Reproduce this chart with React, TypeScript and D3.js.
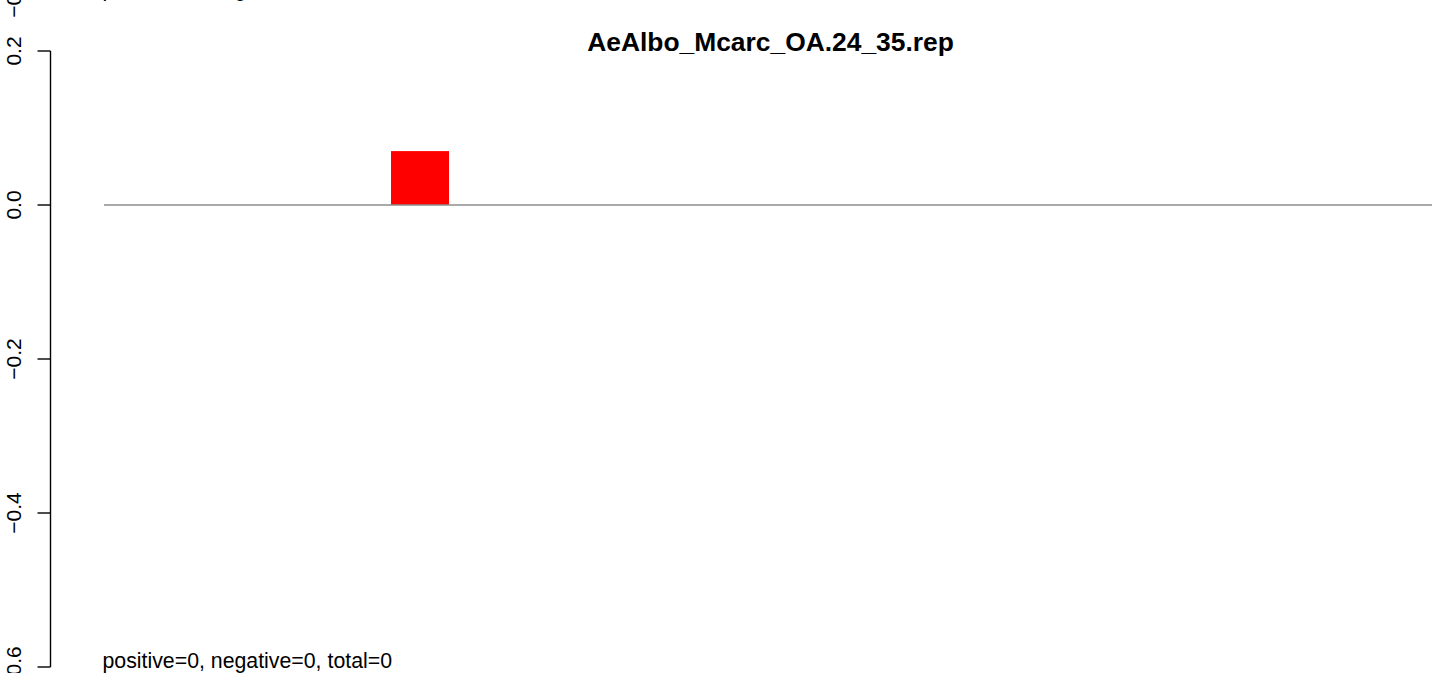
import React from "react";
import * as d3 from "d3";

const title = "AeAlbo_Mcarc_OA.24_35.rep";
const categories = ["1","2","3","4","5","6","7","8","9","10","11","12","13","14","15","16","17","18","19"];
const values = [0, 0, 0, 0, 0.07, 0, 0, 0, 0, 0, 0, 0, 0, 0, 0, 0, 0, 0, 0];
const yTicks = [-0.6, -0.4, -0.2, 0.0, 0.2];
const summary = { positive: 0, negative: 0, total: 0 };

const W = 1439;
const H = 673;
const FONT = "'Liberation Sans', Arial, Helvetica, sans-serif";
const PANEL_OFFSET = 672; // previous (clipped) panel sits above

const fmt = (v: number) => {
  const s = d3.format(".1f")(v);
  return s.replace("-", "\u2212");
};

export default function App() {
  const y = d3.scaleLinear().domain([-0.6, 0.2]).range([667, 51]);
  const x = d3
    .scaleBand<string>()
    .domain(categories)
    .range([104, 1432])
    .paddingInner(1 / 6)
    .paddingOuter(0.124);
  const axisX = 50.5;
  const summaryText = `positive=${summary.positive}, negative=${summary.negative}, total=${summary.total}`;

  return (
    <svg
      width={W}
      height={H}
      style={{ position: "absolute", left: 0, top: 0, background: "#fff" }}
      fontFamily={FONT}
    >
      <rect x={0} y={0} width={W} height={H} fill="#fff" />
      {/* clipped remains of the panel above */}
      <text
        transform={`translate(21,${y(-0.6) - PANEL_OFFSET + 2}) rotate(-90)`}
        textAnchor="middle"
        fontSize={21}
        fill="#000"
      >
        {fmt(-0.6)}
      </text>
      <text x={102.5} y={668 - PANEL_OFFSET} fontSize={21.3} fill="#000">
        {summaryText}
      </text>

      {/* title */}
      <text x={770.5} y={51} textAnchor="middle" fontSize={26.4} fontWeight="bold" fill="#000">
        {title}
      </text>

      {/* bars */}
      {categories.map((c, i) =>
        values[i] !== 0 ? (
          <rect
            key={c}
            x={x(c)}
            width={x.bandwidth()}
            y={y(Math.max(0, values[i]))}
            height={Math.abs(y(values[i]) - y(0))}
            fill="#FF0000"
          />
        ) : null
      )}

      {/* zero line */}
      <line
        x1={x.range()[0]}
        x2={x.range()[1]}
        y1={y(0)}
        y2={y(0)}
        stroke="#8c8c8c"
        strokeWidth={1.4}
      />

      {/* y axis */}
      <line x1={axisX} x2={axisX} y1={y(0.2)} y2={y(-0.6)} stroke="#000" strokeWidth={1.4} />
      {yTicks.map((t) => (
        <g key={t}>
          <line x1={axisX - 13} x2={axisX} y1={y(t)} y2={y(t)} stroke="#000" strokeWidth={1.4} />
          <text
            transform={`translate(21,${y(t)}) rotate(-90)`}
            textAnchor="middle"
            fontSize={21}
            fill="#000"
          >
            {fmt(t)}
          </text>
        </g>
      ))}

      {/* summary */}
      <text x={102.5} y={668} fontSize={21.3} fill="#000">
        {summaryText}
      </text>
    </svg>
  );
}
